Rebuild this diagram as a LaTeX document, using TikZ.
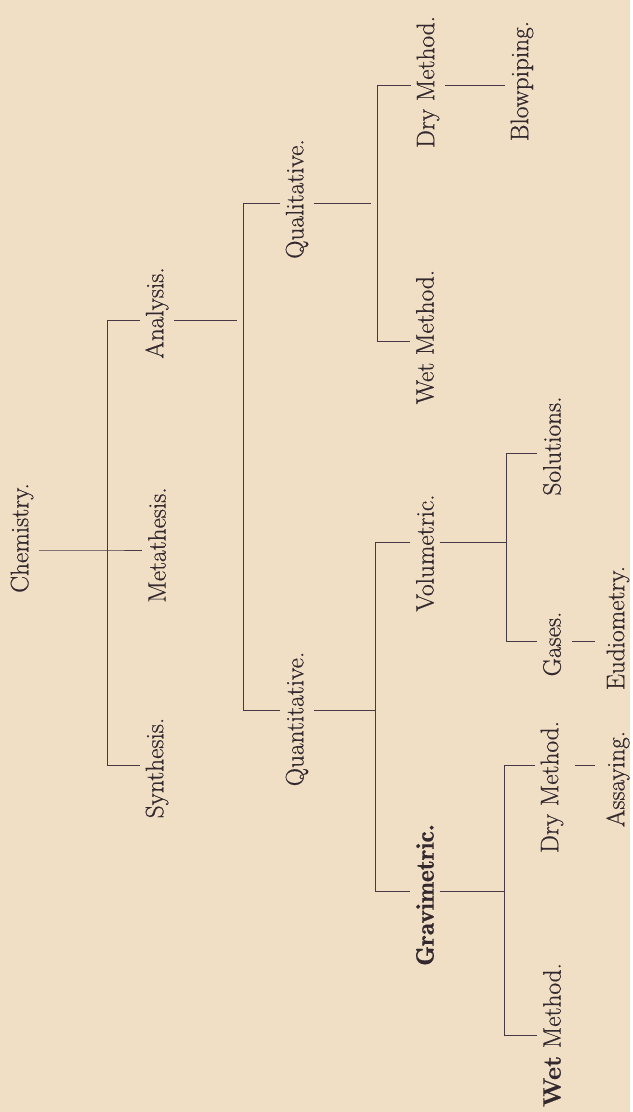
\documentclass[tikz,border=0pt]{standalone}
\usepackage{fontspec}
\setmainfont{Latin Modern Roman}[FakeBold=0.5]
\newfontface\demiface{lmromandemi10-regular.otf}[FakeBold=0.5]
\usepackage{tikz}
\usetikzlibrary{positioning}

\definecolor{paper}{RGB}{240,223,197}
\definecolor{ink}{RGB}{50,40,46}
\definecolor{rule}{RGB}{70,56,68}

\begin{document}
\begin{tikzpicture}[
  x=0.025cm, y=-0.025cm,
  term/.style={rotate=90, inner sep=2pt, outer sep=2pt, text=ink, font=\fontsize{18}{20}\selectfont},
  link/.style={draw=rule, line width=0.7pt},
  gap/.style={shorten >=4pt},
  leaf/.style={shorten <=4pt, shorten >=4pt}
]

% Page
\fill[paper] (0,0) rectangle (630,1112);

% Terms
\node[term] (chem) at (22,538) {Chemistry.};
\node[term] (ana) at (157,313) {Analysis.};
\node[term] (meta) at (157,545) {Metathesis.};
\node[term] (syn) at (157,768) {Synthesis.};

\node[term] (qual) at (297,199) {Qualitative.};
\node[term] (quan) at (297,719) {Quantitative.};

\node[term] (qldry) at (428,82) {Dry Method.};
\node[term] (qlwet) at (425,337) {Wet Method.};
\node[term] (blow) at (522,81) {Blowpiping.};

\node[term] (vol) at (425,553) {Volumetric.};
\node[term] (grav) at (425,895) {\demiface Gravimetric.};

\node[term] (sol) at (552,446) {Solutions.};
\node[term] (gas) at (552,644) {Gases.};
\node[term] (eud) at (618,628) {Eudiometry.};

\node[term] (gvdry) at (552,787) {Dry Method.};
\node[term] (gvwet) at (552,1035) {\textbf{Wet} Method.};
\node[term] (assay) at (618,779) {Assaying.};

% Bracket corners
\coordinate (b1t) at (107,320);
\coordinate (b1m) at (107,550);
\coordinate (b1b) at (107,765);

\coordinate (q2t) at (243,203);
\coordinate (q2m) at (243,320);
\coordinate (q2b) at (243,710);

\coordinate (q3t) at (377,85);
\coordinate (q3m) at (377,203);
\coordinate (q3b) at (377,341);

\coordinate (n3t) at (375,542);
\coordinate (n3m) at (375,710);
\coordinate (n3b) at (375,891);

\coordinate (v4t) at (506,453);
\coordinate (v4m) at (506,542);
\coordinate (v4b) at (506,641);

\coordinate (g4t) at (504,765);
\coordinate (g4m) at (504,891);
\coordinate (g4b) at (504,1035);

% Connections
\draw[link] (chem.south |- b1m) -- (b1m) -- (meta.north |- b1m);
\draw[link] (ana.north |- b1t) -- (b1t) -- (b1b) -- (syn.north |- b1b);

\draw[link, gap] (ana.south |- q2m) -- (q2m);
\draw[link] (qual.north |- q2t) -- (q2t) -- (q2b) -- (quan.north |- q2b);

\draw[link, gap] (qual.south |- q3m) -- (q3m);
\draw[link] (qldry.north |- q3t) -- (q3t) -- (q3b) -- (qlwet.north |- q3b);
\draw[link] (qldry.south |- q3t) -- (blow.north |- q3t);

\draw[link] (quan.south |- n3m) -- (n3m);
\draw[link] (vol.north |- n3t) -- (n3t) -- (n3b) -- (grav.north |- n3b);

\draw[link] (vol.south |- v4m) -- (v4m);
\draw[link] (sol.north |- v4t) -- (v4t) -- (v4b) -- (gas.north |- v4b);
\draw[link, leaf] (gas.south |- v4b) -- (eud.north |- v4b);

\draw[link] (grav.south |- g4m) -- (g4m);
\draw[link] (gvdry.north |- g4t) -- (g4t) -- (g4b) -- (gvwet.north |- g4b);
\draw[link, leaf] (gvdry.south |- g4t) -- (assay.north |- g4t);

\end{tikzpicture}
\end{document}
